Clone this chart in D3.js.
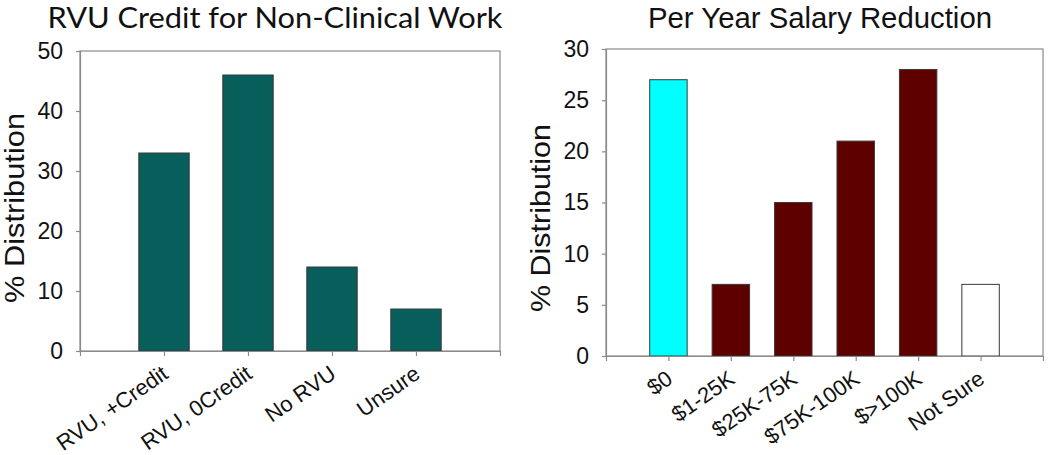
<!DOCTYPE html>
<html><head><meta charset="utf-8">
<script src="https://cdn.jsdelivr.net/npm/d3@7"></script>
<style>body{margin:0;background:#fff}svg{display:block}</style>
</head><body>
<svg id="c" width="1050" height="455"></svg>
<script>
const leftCategories = ["RVU, +Credit", "RVU, 0Credit", "No RVU", "Unsure"];
const leftValues = [33, 46, 14, 7];
const leftTicks = [0, 10, 20, 30, 40, 50];
const rightCategories = ["$0", "$1-25K", "$25K-75K", "$75K-100K", "$>100K", "Not Sure"];
const rightValues = [27, 7, 15, 21, 28, 7];
const rightColors = ["#00ffff", "#5e0000", "#5e0000", "#5e0000", "#5e0000", "#ffffff"];
const rightTicks = [0, 5, 10, 15, 20, 25, 30];

const svg = d3.select("#c");
const AX = "Liberation Sans, Arial, sans-serif";

function panel(o) {
  const g = svg.append("g");
  const x = d3.scaleLinear().domain([0, o.cats.length + 1]).range([o.x0, o.x1]);
  const y = d3.scaleLinear().domain([0, o.ymax]).range([o.y0, o.y1]);
  const step = x(1) - x(0);
  const bw = step * 0.6;
  g.append("rect").attr("x", o.x0).attr("y", o.y1).attr("width", o.x1 - o.x0).attr("height", o.y0 - o.y1)
    .attr("fill", "none").attr("stroke", "#8a8a8a").attr("stroke-width", 1.2);
  g.selectAll("rect.bar").data(o.vals).join("rect").attr("class", "bar")
    .attr("x", (d, i) => x(i + 1) - bw / 2).attr("width", bw)
    .attr("y", d => y(d)).attr("height", d => y(0) - y(d))
    .attr("fill", (d, i) => o.colors[i]).attr("stroke", "#3a3a3a").attr("stroke-width", 1);
  const ya = d3.axisLeft(y).tickValues(o.ticks).tickSize(4).tickPadding(13).tickFormat(d3.format("d"));
  const yg = g.append("g").attr("transform", `translate(${o.x0},0)`).call(ya);
  yg.select(".domain").attr("stroke", "#8a8a8a").attr("stroke-width", 1.2);
  yg.selectAll(".tick line").attr("stroke", "#8a8a8a").attr("stroke-width", 1.2);
  yg.selectAll(".tick text").attr("font-family", AX).attr("font-size", 23).attr("fill", "#111");
  const xa = d3.axisBottom(x).tickValues(d3.range(1, o.cats.length + 1)).tickSize(5).tickFormat(d => o.cats[d - 1]);
  const xg = g.append("g").attr("transform", `translate(0,${o.y0})`).call(xa);
  xg.select(".domain").attr("stroke", "#8a8a8a").attr("stroke-width", 1.2);
  xg.selectAll(".tick line").attr("stroke", "#8a8a8a").attr("stroke-width", 1.2);
  xg.selectAll(".tick text").attr("font-family", AX).attr("font-size", 22).attr("fill", "#111")
    .attr("text-anchor", "end").attr("dy", 0).attr("y", 0)
    .attr("transform", "translate(5,26) rotate(-35)");
  g.append("text").attr("x", o.tx).attr("y", 28).attr("text-anchor", "middle")
    .attr("font-family", o.tfont).attr("font-size", o.tsize).attr("fill", "#111")
    .attr("textLength", o.tlen).attr("lengthAdjust", "spacingAndGlyphs").text(o.title);
  g.append("text").attr("transform", `translate(${o.yx},${o.yy}) rotate(-90)`).attr("text-anchor", "middle")
    .attr("font-family", AX).attr("font-size", 28).attr("fill", "#111")
    .attr("textLength", o.ylen).attr("lengthAdjust", "spacingAndGlyphs").text("% Distribution");
}

panel({cats: leftCategories, vals: leftValues, colors: leftValues.map(() => "#075e5b"), ticks: leftTicks, ymax: 50,
  x0: 80, x1: 500, y0: 351, y1: 51, title: "RVU Credit for Non-Clinical Work", tx: 275, tlen: 455,
  tfont: "Lato, sans-serif", tsize: 29, yx: 24, yy: 208, ylen: 190});
panel({cats: rightCategories, vals: rightValues, colors: rightColors, ticks: rightTicks, ymax: 30,
  x0: 606, x1: 1043, y0: 356, y1: 49, title: "Per Year Salary Reduction", tx: 820, tlen: 344,
  tfont: AX, tsize: 29, yx: 550, yy: 218, ylen: 188});
</script>
</body></html>
